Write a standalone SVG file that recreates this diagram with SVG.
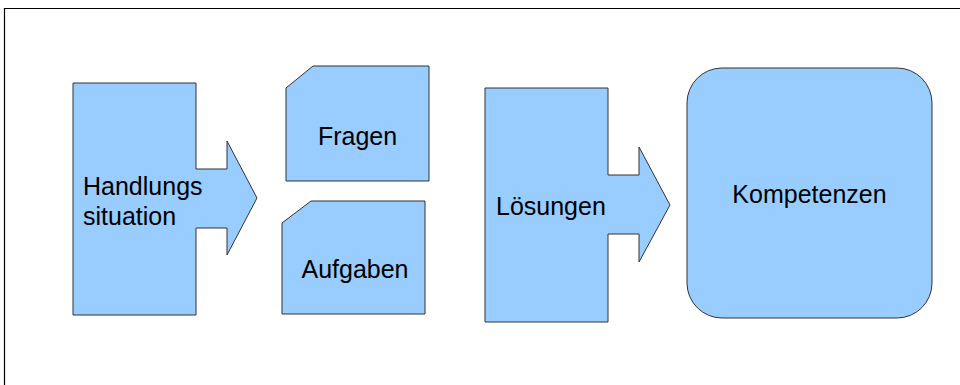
<svg xmlns="http://www.w3.org/2000/svg" width="960" height="385" viewBox="0 0 960 385">
<style>
.s{fill:#99ccff;stroke:#333333;stroke-width:1}
.t{font-family:"Liberation Sans",Arial,sans-serif;font-size:25px;fill:#000}
</style>
<rect x="0" y="0" width="960" height="385" fill="#ffffff"/>
<path d="M4.5,385 V8.5 H960" fill="none" stroke="#000" stroke-width="1.2"/>
<g id="handlungssituation">
<path class="s" d="M73,83 H196 V169 H227 V141 L257,198 L227,255 V228 H196 V315 H73 Z"/>
<text class="t" x="83" y="195">Handlungs</text>
<text class="t" x="83" y="225">situation</text>
</g>
<g id="fragen">
<path class="s" d="M286,88 L313,66 H429 V181 H286 Z"/>
<text class="t" x="357.5" y="145" text-anchor="middle">Fragen</text>
</g>
<g id="aufgaben">
<path class="s" d="M282,223 L311,201 H425 V314 H282 Z"/>
<text class="t" x="355" y="278" text-anchor="middle">Aufgaben</text>
</g>
<g id="loesungen">
<path class="s" d="M485,88 H608 V175 H639 V147 L670,205 L639,262 V234 H608 V322 H485 Z"/>
<text class="t" x="496" y="215">Lösungen</text>
</g>
<g id="kompetenzen">
<rect class="s" x="687" y="68" width="245" height="250" rx="35" ry="35"/>
<text class="t" x="809.5" y="203" text-anchor="middle">Kompetenzen</text>
</g>
<g id="connectors"></g>
</svg>
